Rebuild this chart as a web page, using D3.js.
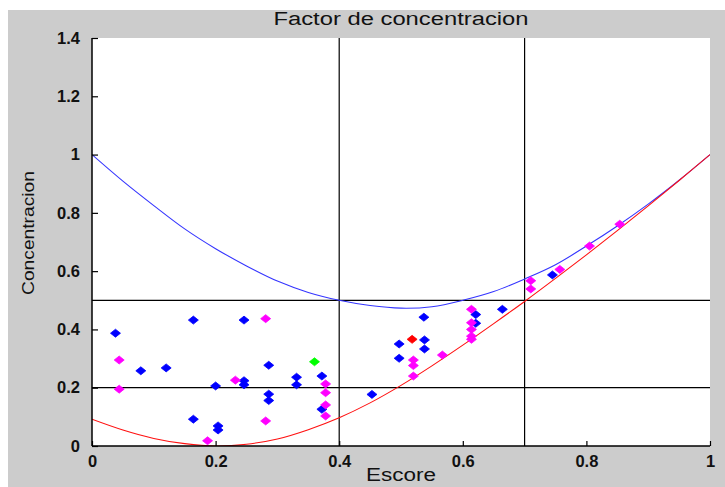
<!DOCTYPE html>
<html><head><meta charset="utf-8">
<script src="https://cdn.jsdelivr.net/npm/d3@7"></script>
<style>body{margin:0;background:#fff}svg{display:block}</style>
</head><body><svg id="c" width="725" height="487"></svg>
<script>
const title = "Factor de concentracion";
const xLabel = "Escore";
const yLabel = "Concentracion";
const xTicks = [0, 0.2, 0.4, 0.6, 0.8, 1];
const yTicks = [0, 0.2, 0.4, 0.6, 0.8, 1, 1.2, 1.4];
const vLines = [0.4, 0.7];
const hLines = [0.2, 0.5];

const curveX = [0,0.05,0.1,0.15,0.2,0.25,0.3,0.35,0.4,0.45,0.5,0.55,0.6,0.65,0.7,0.75,0.8,0.85,0.9,0.95,1];
const upperCurve = [1.0,0.909,0.825,0.745,0.677,0.618,0.566,0.527,0.500,0.482,0.473,0.478,0.500,0.530,0.573,0.622,0.686,0.755,0.830,0.912,1.0];
const lowerCurve = [0.092,0.055,0.026,0.008,0.000,0.006,0.024,0.056,0.097,0.148,0.208,0.275,0.346,0.420,0.496,0.575,0.656,0.739,0.824,0.911,1.0];

const blueX = [0.038,0.164,0.079,0.120,0.200,0.164,0.204,0.204,0.246,0.286,0.246,0.246,0.331,0.331,0.372,0.286,0.286,0.372,0.453,0.497,0.497,0.537,0.538,0.538,0.621,0.621,0.664,0.745];
const blueY = [0.387,0.432,0.258,0.268,0.206,0.092,0.069,0.055,0.432,0.277,0.224,0.210,0.236,0.210,0.240,0.178,0.156,0.126,0.177,0.350,0.301,0.442,0.364,0.333,0.451,0.421,0.469,0.587];
const pinkX = [0.044,0.044,0.187,0.281,0.232,0.378,0.378,0.378,0.378,0.281,0.520,0.520,0.520,0.567,0.614,0.614,0.614,0.614,0.614,0.710,0.710,0.757,0.805,0.854];
const pinkY = [0.295,0.195,0.018,0.437,0.226,0.213,0.183,0.141,0.103,0.086,0.295,0.276,0.240,0.312,0.469,0.423,0.400,0.377,0.366,0.567,0.539,0.606,0.686,0.761];
const greenX = [0.360];
const greenY = [0.289];
const redX = [0.518];
const redY = [0.366];

const svg = d3.select("#c");
const L = 92, R = 710, T = 38, B = 446;
svg.append("rect").attr("x",8).attr("y",10).attr("width",717).attr("height",477).attr("fill","#cccccc");
svg.append("rect").attr("x",L).attr("y",T).attr("width",R-L).attr("height",B-T).attr("fill","#ffffff");

const x = d3.scaleLinear().domain([0,1]).range([L,R]);
const y = d3.scaleLinear().domain([0,1.4]).range([B,T]);

const font = "'Liberation Sans', Arial, sans-serif";

vLines.forEach(v => svg.append("line").attr("x1",x(v)).attr("x2",x(v)).attr("y1",T).attr("y2",B).attr("stroke","#000").attr("stroke-width",1.2));
hLines.forEach(v => svg.append("line").attr("x1",L).attr("x2",R).attr("y1",y(v)).attr("y2",y(v)).attr("stroke","#000").attr("stroke-width",1.2));

svg.append("clipPath").attr("id","cp").append("rect").attr("x",L).attr("y",T-1).attr("width",R-L).attr("height",B-T+1);
const line = d3.line().x((d,i)=>x(curveX[i])).y(d=>y(d)).curve(d3.curveCatmullRom.alpha(0.5));
svg.append("path").attr("d",line(upperCurve)).attr("fill","none").attr("stroke","#3535ff").attr("stroke-width",1.1).attr("clip-path","url(#cp)");
svg.append("path").attr("d",line(lowerCurve)).attr("fill","none").attr("stroke","#ff1010").attr("stroke-width",1.1).attr("clip-path","url(#cp)");

const diamond = (cx,cy) => `M${cx-5},${cy}L${cx},${cy-4}L${cx+5},${cy}L${cx},${cy+4}Z`;
function pts(xs, ys, color){
  svg.append("g").selectAll("path").data(xs).join("path")
    .attr("d",(d,i)=>diamond(x(d), y(ys[i]))).attr("fill",color).attr("stroke",color).attr("stroke-width",0.8);
}
pts(blueX, blueY, "#0000ff");
pts(pinkX, pinkY, "#ff00ff");
pts(greenX, greenY, "#00ff00");
pts(redX, redY, "#ff0000");

const xAxis = d3.axisBottom(x).tickValues(xTicks).tickSize(-5).tickPadding(9).tickFormat(d=>d3.format("")(d));
const gx = svg.append("g").attr("transform",`translate(0,${B})`).call(xAxis);
const yAxis = d3.axisLeft(y).tickValues(yTicks).tickSize(-6).tickPadding(12).tickFormat(d=>d3.format("")(+d.toFixed(1)));
const gy = svg.append("g").attr("transform",`translate(${L},0)`).call(yAxis);
[gx,gy].forEach(g=>{
  g.select(".domain").attr("stroke","#000").attr("stroke-width",1.5);
  g.selectAll(".tick line").attr("stroke","#000").attr("stroke-width",1.2);
  g.selectAll("text").attr("fill","#111").style("font-family",font).style("font-size","16.5px").style("font-weight","bold");
});
gx.select(".domain").attr("d",`M${L},0H${R}`);
gy.select(".domain").attr("d",`M0,${B}V${T}`);

svg.append("text").attr("x",(L+R)/2).attr("y",25).attr("text-anchor","middle")
  .attr("textLength",255).attr("lengthAdjust","spacingAndGlyphs")
  .style("font-family",font).style("font-size","18px").attr("fill","#111").text(title);
svg.append("text").attr("x",(L+R)/2).attr("y",481).attr("text-anchor","middle")
  .attr("textLength",70).attr("lengthAdjust","spacingAndGlyphs")
  .style("font-family",font).style("font-size","18px").attr("fill","#111").text(xLabel);
svg.append("text").attr("transform",`translate(34,${(T+B)/2 - 9}) rotate(-90)`).attr("text-anchor","middle")
  .attr("textLength",124).attr("lengthAdjust","spacingAndGlyphs")
  .style("font-family",font).style("font-size","16px").attr("fill","#111").text(yLabel);
</script></body></html>
